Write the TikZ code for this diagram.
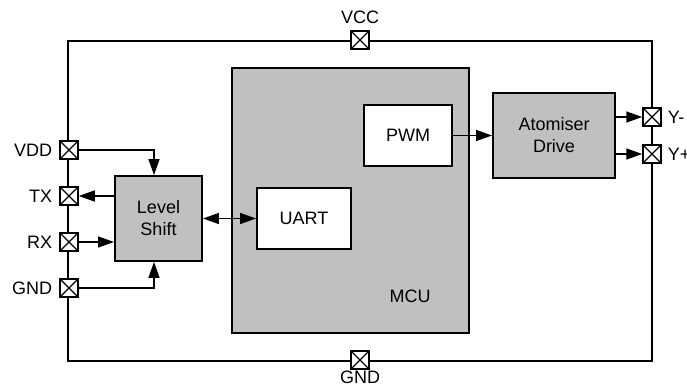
\documentclass[tikz,border=0pt]{standalone}
\usepackage{fontspec}
\setmainfont{Liberation Sans}
\usepackage{xcolor}
\usepackage{tikz}
\usetikzlibrary{arrows.meta,calc,positioning}
\definecolor{bloque}{HTML}{C0C0C0}
\tikzset{
  caja/.style={draw=black,line width=1.9pt,fill=bloque,align=center,inner sep=0pt},
  blanca/.style={caja,fill=white},
  pad/.style={draw=black,line width=1.5pt,fill=white,minimum size=18pt,inner sep=0pt,
    path picture={\draw[line width=1.3pt] (path picture bounding box.north west)--(path picture bounding box.south east)
      (path picture bounding box.south west)--(path picture bounding box.north east);}},
  txt/.style={inner sep=1pt,font=\fontsize{18}{22}\selectfont},
  flecha/.style={-{Triangle[length=16pt,width=11pt]},line width=1.5pt},
  dflecha/.style={{Triangle[length=16pt,width=11pt]}-{Triangle[length=16pt,width=11pt]},line width=1.5pt}
}

\begin{document}
\begin{tikzpicture}[x=1pt,y=-1pt,font=\fontsize{18}{22}\selectfont]
\useasboundingbox (0,0) rectangle (687,387);
% contorno
\draw[line width=1.7pt] (68,41) rectangle (652,361);
% bloques
\node[caja,minimum width=237pt,minimum height=265pt] (mcu) at (350.5,200.5) {};
\node[txt] (mcul) at (410,296) {MCU};
\node[blanca,minimum width=94pt,minimum height=61pt] (uart) at (304,218.5) {UART};
\node[blanca,minimum width=88pt,minimum height=61pt] (pwm) at (408,135.5) {PWM};
\node[caja,minimum width=87pt,minimum height=85pt] (ls) at (158.5,218.5) {Level\\Shift};
\node[caja,minimum width=122pt,minimum height=85pt] (drv) at (554,135.5) {Atomiser\\Drive};
% pads
\node[pad] (vcc) at (360,40) {};
\node[pad] (gndb) at (360,360) {};
\node[pad] (vdd) at (69,150) {};
\node[pad] (tx) at (69,196) {};
\node[pad] (rx) at (69,242) {};
\node[pad] (gnd) at (69,288) {};
\node[pad] (yn) at (652,117) {};
\node[pad] (yp) at (652,154) {};
\node[txt,above=5pt of vcc] (vccl) {VCC};
\node[txt,below=0pt of gndb] (gndbl) {GND};
\node[txt,left=6pt of vdd] (vddl) {VDD};
\node[txt,left=6pt of tx] (txl) {TX};
\node[txt,left=6pt of rx] (rxl) {RX};
\node[txt,left=6pt of gnd] (gndl) {GND};
\node[txt,right=5pt of yn] (ynl) {Y-};
\node[txt,right=5pt of yp] (ypl) {Y+};
% conexiones
\draw[flecha] (vdd.east) -| ([xshift=-4.5pt]ls.north);
\draw[flecha] (gnd.east) -| ([xshift=-4.5pt]ls.south);
\draw[flecha] (ls.west |- tx) -- (tx.east);
\draw[flecha] (rx.east) -- (ls.west |- rx);
\draw[dflecha] (ls.east) -- (uart.west);
\draw[flecha] (pwm.east) -- (drv.west);
\draw[flecha] (drv.east |- yn) -- (yn.west);
\draw[flecha] (drv.east |- yp) -- (yp.west);
\end{tikzpicture}
\end{document}
